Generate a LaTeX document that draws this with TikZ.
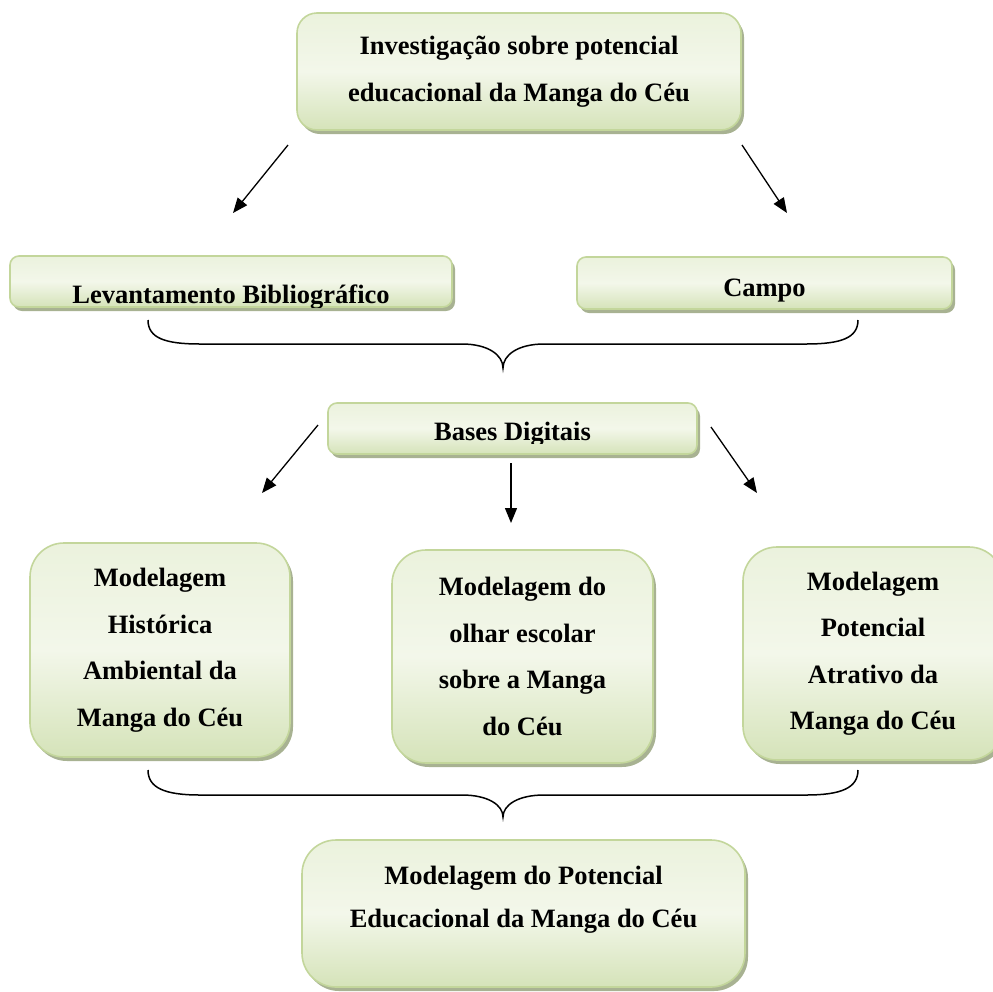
\documentclass[tikz,border=0pt]{standalone}
\usepackage{fontspec}
\setmainfont{Liberation Serif}
\usetikzlibrary{shadows,arrows.meta}
\definecolor{boxline}{HTML}{C3D69B}
\definecolor{boxtop}{HTML}{EBF2DD}
\definecolor{boxmid}{HTML}{F3F7EA}
\definecolor{boxbot}{HTML}{D5E3B9}
\definecolor{shadowc}{HTML}{9EAA86}
\tikzset{
  gbox/.style={draw=boxline, line width=1.6pt, top color=boxtop, bottom color=boxbot, middle color=boxmid,
    rounded corners=#1, drop shadow={shadow xshift=3pt, shadow yshift=-4pt, fill=shadowc, opacity=0.9},
    inner sep=0pt, align=center, font=\bfseries\fontsize{26.5}{46.5}\selectfont},
  txt/.style={inner sep=0pt, font=\bfseries\fontsize{26.5}{46.5}\selectfont},
  arr/.style={line width=1.3pt, -{Triangle[length=15pt,width=12pt]}},
  brace/.style={line width=1.5pt}
}
\begin{document}
\begin{tikzpicture}[x=1pt,y=1pt]
\clip (0,0) rectangle (993,-991);
% top box
\node[gbox=20pt, minimum width=444, minimum height=117] (top) at (519,-71.5)
  {Investigação sobre potencial\\educacional da Manga do Céu};
% second row
\node[gbox=9pt, minimum width=442, minimum height=51] (lev) at (231,-281.5) {};
\begin{scope}
  \clip[rounded corners=9pt] (lev.south west) rectangle (lev.north east);
  \node[txt, anchor=base] (levt) at (231,-303) {Levantamento Bibliográfico};
\end{scope}
\node[gbox=9pt, minimum width=375, minimum height=52] (campo) at (764.5,-283) {};
\begin{scope}
  \clip[rounded corners=9pt] (campo.south west) rectangle (campo.north east);
  \node[txt, anchor=base] (campot) at (764.5,-296) {Campo};
\end{scope}
% bases digitais
\node[gbox=9pt, minimum width=369, minimum height=51] (bases) at (512.5,-428.5) {};
\begin{scope}
  \clip (bases.west |- 0,-443) rectangle (bases.north east);
  \node[txt, anchor=base] (basest) at (512.5,-440) {Bases Digitais};
\end{scope}
% third row
\node[gbox=34pt, minimum width=260, minimum height=214] (hist) at (160,-650)
  {Modelagem\\Histórica\\Ambiental da\\Manga do Céu};
\node[gbox=34pt, minimum width=261, minimum height=213] (olhar) at (522.5,-656.5)
  {Modelagem do\\olhar escolar\\sobre a Manga\\do Céu};
\node[gbox=34pt, minimum width=260, minimum height=213] (atra) at (873,-653.5)
  {Modelagem\\Potencial\\Atrativo da\\Manga do Céu};
% bottom
\node[gbox=34pt, minimum width=443, minimum height=147, font=\bfseries\fontsize{26.5}{43}\selectfont] (edu) at (523.5,-913.5)
  {Modelagem do Potencial\\Educacional da Manga do Céu\\[-10pt]\rule{0pt}{0pt}};
% arrows
\coordinate (a1s) at (288,-145); \coordinate (a1e) at (233,-213);
\coordinate (a2s) at (742,-145); \coordinate (a2e) at (787,-213);
\coordinate (a3s) at (318,-425); \coordinate (a3e) at (262,-493);
\coordinate (a4s) at (511,-463); \coordinate (a4e) at (511,-523);
\coordinate (a5s) at (711,-427); \coordinate (a5e) at (757,-493);
\draw[arr] (a1s) -- (a1e);
\draw[arr] (a2s) -- (a2e);
\draw[arr] (a3s) -- (a3e);
\draw[arr] (a4s) -- (a4e);
\draw[arr] (a5s) -- (a5e);
% braces
\coordinate (b1l) at (148,-320); \coordinate (b1t) at (503,-368); \coordinate (b1r) at (858,-320);
\draw[brace] (b1l) .. controls (148,-338) and (165,-344) .. (200,-344) -- (462,-344)
  .. controls (488,-344) and (503,-355) .. (b1t)
  .. controls (503,-355) and (518,-344) .. (544,-344) -- (806,-344)
  .. controls (841,-344) and (858,-338) .. (b1r);
\coordinate (b2l) at (148,-770); \coordinate (b2t) at (503,-817); \coordinate (b2r) at (858,-770);
\draw[brace] (b2l) .. controls (148,-788) and (165,-795) .. (200,-795) -- (462,-795)
  .. controls (488,-795) and (503,-805) .. (b2t)
  .. controls (503,-805) and (518,-795) .. (544,-795) -- (806,-795)
  .. controls (841,-795) and (858,-788) .. (b2r);
\end{tikzpicture}
\end{document}
